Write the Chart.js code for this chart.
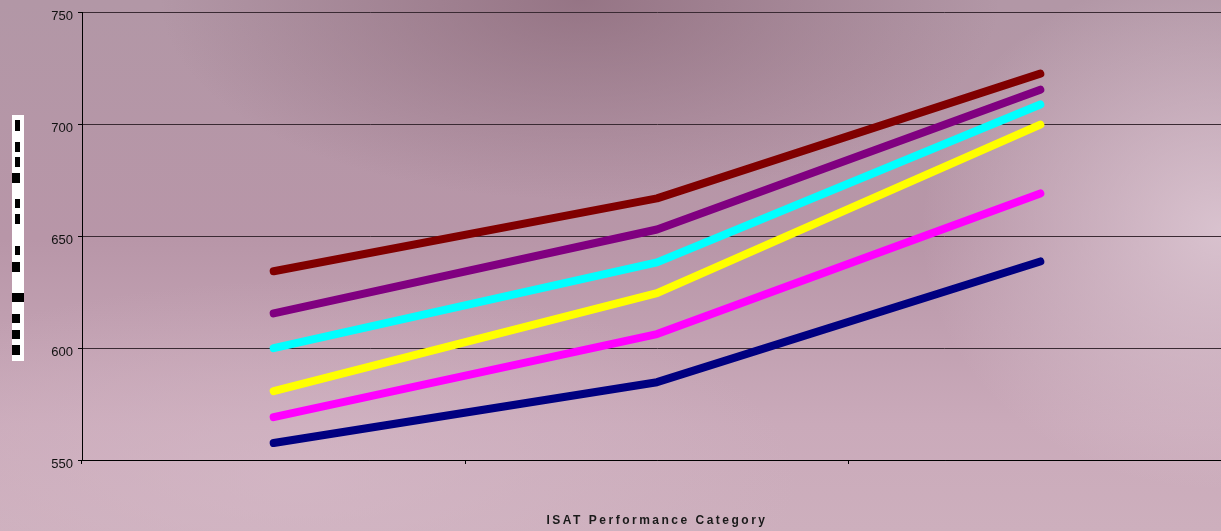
<!DOCTYPE html>
<html>
<head>
<meta charset="utf-8">
<script src="https://cdn.jsdelivr.net/npm/chart.js@4/dist/chart.umd.min.js"></script>
<style>
  html, body { margin: 0; padding: 0; overflow: hidden; }
  body {
    width: 1221px;
    height: 531px;
    background:
      radial-gradient(ellipse 420px 200px at 580px 0px, rgba(140, 105, 122, 0.75), rgba(140, 105, 122, 0) 100%),
      radial-gradient(ellipse 300px 260px at 1221px 230px, rgba(225, 205, 216, 0.8), rgba(225, 205, 216, 0) 100%),
      radial-gradient(ellipse 500px 200px at 300px 480px, rgba(214, 186, 200, 0.6), rgba(214, 186, 200, 0) 100%),
      linear-gradient(180deg, #b297a6 0%, #b896a8 45%, #caaaba 80%, #cdafbd 100%);
  }
  #wrap { position: relative; width: 1236px; height: 531px; }
</style>
</head>
<body>
<div id="wrap"><canvas id="isatChart"></canvas></div>
<script>
const categories = ["1", "2", "3"];
const yTicks = [550, 600, 650, 700, 750];

const darkRed = [634.4, 667.0, 722.8];
const purple  = [615.6, 653.1, 715.6];
const cyan    = [600.0, 638.4, 709.0];
const yellow  = [580.8, 624.6, 700.0];
const magenta = [569.2, 606.3, 669.2];
const navy    = [557.6, 584.8, 638.8];

const seriesColors = {
    darkRed: "#800000",
    purple: "#800080",
    cyan: "#00ffff",
    yellow: "#ffff00",
    magenta: "#ff00ff",
    navy: "#000080",
};

function line(label, data, color) {
    return {
        label: label,
        data: data,
        borderColor: color,
        backgroundColor: color,
        borderWidth: 8,
        borderCapStyle: "round",
        borderJoinStyle: "round",
        pointRadius: 0,
        tension: 0,
        fill: false,
    };
}

// garbled, unreadable y title strip at the far left of the original
const leftStrip = {
    id: "leftStrip",
    beforeDraw(chart) {
        const ctx = chart.ctx;
        ctx.save();
        ctx.fillStyle = "#ffffff";
        ctx.fillRect(12, 115, 12, 246);
        ctx.fillStyle = "#000000";
        const blocks = [
            [15, 120, 5, 11], [15, 142, 5, 10], [15, 157, 5, 10], [12, 173, 8, 10],
            [15, 199, 5, 9], [15, 214, 5, 10], [15, 246, 5, 9], [12, 262, 8, 10],
            [12, 293, 12, 9], [12, 314, 8, 9], [12, 330, 8, 9], [12, 345, 8, 10],
        ];
        blocks.forEach(([x, y, w, h]) => ctx.fillRect(x, y, w, h));
        ctx.restore();
    },
};

const ctx = document.getElementById("isatChart").getContext("2d");

const isatChart = new Chart(ctx, {
    type: "line",
    data: {
        labels: categories,
        datasets: [
            line("Series 1", darkRed, seriesColors.darkRed),
            line("Series 2", purple, seriesColors.purple),
            line("Series 3", cyan, seriesColors.cyan),
            line("Series 4", yellow, seriesColors.yellow),
            line("Series 5", magenta, seriesColors.magenta),
            line("Series 6", navy, seriesColors.navy),
        ],
    },
    options: {
        responsive: true,
        maintainAspectRatio: false,
        animation: false,
        layout: { padding: { top: 12, right: 4, left: 0, bottom: 0 } },
        plugins: {
            legend: { display: false },
            tooltip: { enabled: false },
        },
        scales: {
            x: {
                offset: true,
                border: { display: true, color: "#000000", width: 1 },
                grid: {
                    offset: true,
                    drawOnChartArea: false,
                    drawTicks: true,
                    tickLength: 4,
                    color: "#000000",
                },
                ticks: { display: false },
                title: {
                    display: true,
                    text: "ISAT Performance Category",
                    color: "#1a1a1a",
                    font: { family: "Liberation Sans, Arial", size: 12, weight: "bold" },
                    padding: { top: 0, bottom: 3 },
                },
                afterFit(scale) {
                    scale.height = 71;
                },
            },
            y: {
                min: 550,
                max: 750,
                afterBuildTicks(scale) {
                    scale.ticks = yTicks.map((v) => ({ value: v }));
                },
                border: { display: true, color: "#000000", width: 1 },
                grid: {
                    color: "#3a2a33",
                    lineWidth: 1,
                    drawTicks: true,
                    tickLength: 4,
                    tickColor: "#000000",
                },
                ticks: {
                    color: "#111111",
                    padding: 5,
                    labelOffset: 4,
                    font: { family: "Liberation Sans, Arial", size: 13 },
                },
                afterFit(scale) {
                    scale.width = 82;
                },
            },
        },
    },
    plugins: [leftStrip],
});

// letter-spaced axis title like the original
const xScale = isatChart.scales.x;
const baseDrawTitle = xScale.drawTitle.bind(xScale);
xScale.drawTitle = function () {
    this.ctx.save();
    this.ctx.letterSpacing = "2.5px";
    baseDrawTitle();
    this.ctx.restore();
};
isatChart.draw();
</script>
</body>
</html>
